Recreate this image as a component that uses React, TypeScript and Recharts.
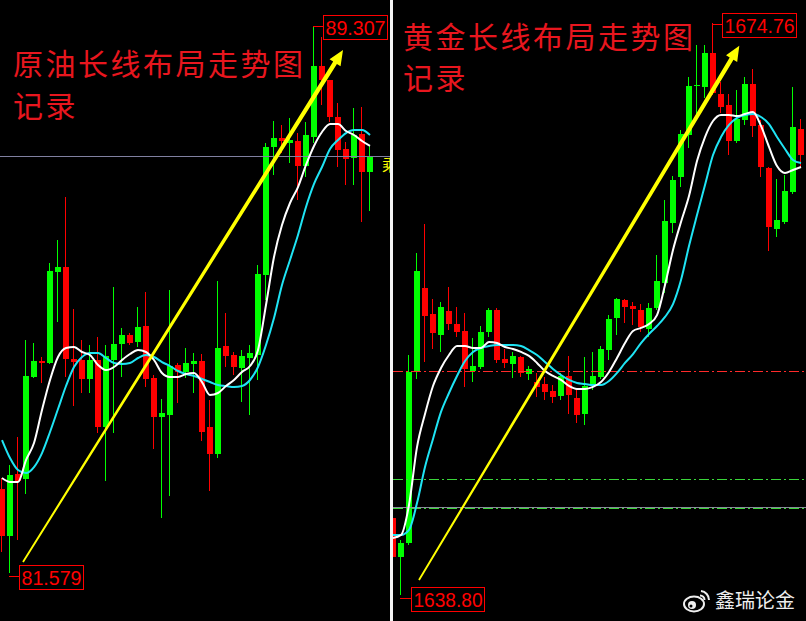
import React from 'react';
import { ComposedChart, Bar, Line, XAxis, YAxis, ReferenceLine, ReferenceDot } from 'recharts';

// ---------------- Crude oil (left panel) ----------------
const oilOpen = [82.768, 82.103, 82.980, 82.909, 84.353, 84.579, 84.551, 85.839, 85.910, 84.608, 84.594, 84.325, 84.594, 83.645, 84.594, 84.820, 84.947, 84.848, 85.075, 84.339, 83.787, 83.815, 84.523, 84.424, 84.537, 84.579, 83.645, 83.263, 84.792, 84.664, 84.480, 84.622, 84.664, 85.797, 87.608, 87.736, 87.665, 87.693, 87.339, 87.750, 88.755, 88.557, 88.033, 87.580, 87.453, 87.792, 87.255];
const oilClose = [82.103, 82.966, 82.881, 84.367, 84.579, 84.551, 85.853, 85.910, 84.608, 84.565, 84.325, 84.594, 83.645, 84.650, 84.820, 84.947, 84.834, 85.061, 84.325, 83.787, 83.843, 84.509, 84.424, 84.551, 84.579, 83.575, 83.263, 84.763, 84.650, 84.495, 84.650, 84.693, 85.811, 87.608, 87.736, 87.693, 87.707, 87.339, 87.778, 88.755, 88.557, 88.033, 87.566, 87.439, 87.778, 87.255, 87.481];
const oilHigh = [82.923, 83.107, 83.504, 84.877, 84.834, 84.636, 85.967, 86.292, 86.901, 85.315, 84.877, 84.806, 84.919, 84.806, 85.627, 85.047, 84.976, 85.344, 85.556, 84.381, 84.042, 85.584, 84.551, 84.763, 84.693, 84.679, 84.027, 85.712, 85.259, 84.707, 84.735, 84.806, 85.938, 87.665, 87.976, 87.920, 88.019, 87.806, 87.962, 89.307, 89.165, 88.557, 88.231, 87.679, 88.160, 88.175, 87.637];
const oilLow = [81.876, 81.579, 82.046, 82.697, 84.339, 84.268, 84.537, 85.131, 84.353, 83.943, 84.127, 84.127, 83.560, 82.881, 83.560, 84.353, 84.806, 84.778, 84.211, 83.334, 82.357, 82.669, 83.985, 84.339, 84.127, 83.447, 82.739, 83.207, 84.495, 84.381, 83.999, 83.815, 84.311, 85.443, 87.212, 87.523, 87.382, 86.858, 87.184, 87.665, 88.203, 87.962, 87.325, 87.071, 87.071, 86.547, 86.703];
const oilMaFast = [82.923, 82.867, 82.867, 83.178, 83.419, 83.886, 84.311, 84.636, 84.763, 84.778, 84.707, 84.664, 84.523, 84.452, 84.495, 84.594, 84.679, 84.735, 84.707, 84.594, 84.410, 84.353, 84.353, 84.395, 84.410, 84.282, 84.098, 84.127, 84.226, 84.311, 84.424, 84.509, 84.735, 85.372, 86.051, 86.504, 86.816, 87.042, 87.354, 87.623, 87.821, 87.934, 87.934, 87.835, 87.778, 87.693, 87.623];
const oilMaSlow = [83.461, 83.207, 83.037, 82.994, 83.079, 83.277, 83.575, 83.900, 84.226, 84.495, 84.636, 84.693, 84.693, 84.622, 84.551, 84.537, 84.551, 84.622, 84.664, 84.636, 84.565, 84.509, 84.438, 84.395, 84.367, 84.325, 84.282, 84.240, 84.226, 84.211, 84.226, 84.311, 84.495, 84.806, 85.188, 85.655, 86.009, 86.363, 86.759, 87.085, 87.325, 87.580, 87.707, 87.806, 87.849, 87.849, 87.778];
const oilLevels = [{ price: 87.481, color: '#8080a0', dash: undefined as string | undefined }];
const oilArrow = [{ x: 2.625, y: 81.735 }, { x: 42.625, y: 88.981 }];
const oilTags = [
  { i: 39, price: 89.307, label: '89.307', dy: 0, gap: 10, w: 64 },
  { i: 1, price: 81.579, label: '81.579', dy: 4, gap: 10, w: 64 },
];

// ---------------- Gold (right panel) ----------------
const goldOpen = [1643.64, 1641.19, 1642.07, 1652.82, 1658.10, 1656.47, 1655.15, 1656.65, 1655.84, 1655.40, 1652.88, 1653.13, 1655.33, 1656.72, 1653.64, 1653.32, 1653.76, 1652.69, 1652.19, 1652.07, 1651.63, 1651.31, 1652.57, 1651.19, 1650.18, 1652.00, 1652.51, 1654.20, 1656.21, 1657.35, 1656.97, 1656.72, 1655.52, 1656.84, 1658.42, 1662.19, 1665.08, 1667.72, 1670.80, 1670.74, 1672.87, 1670.30, 1669.61, 1667.34, 1668.66, 1670.93, 1668.35, 1665.64, 1661.81, 1662.25, 1664.14, 1668.10];
const goldClose = [1641.19, 1642.07, 1652.82, 1659.17, 1656.34, 1655.27, 1656.91, 1655.84, 1655.33, 1653.01, 1653.20, 1655.33, 1656.72, 1653.57, 1653.39, 1653.83, 1652.76, 1653.01, 1651.88, 1651.56, 1651.25, 1652.57, 1651.37, 1650.12, 1651.94, 1652.57, 1654.27, 1656.15, 1657.41, 1656.91, 1656.78, 1655.65, 1656.84, 1658.54, 1662.31, 1664.89, 1667.78, 1670.80, 1670.86, 1672.87, 1670.36, 1669.48, 1667.34, 1668.73, 1670.93, 1668.29, 1665.71, 1661.94, 1662.38, 1664.20, 1668.22, 1666.46];
const goldHigh = [1643.83, 1642.26, 1653.89, 1660.30, 1662.12, 1657.41, 1657.22, 1658.16, 1656.91, 1656.53, 1654.96, 1655.71, 1656.84, 1656.84, 1654.27, 1654.08, 1653.83, 1653.20, 1652.76, 1652.51, 1652.00, 1652.76, 1653.83, 1651.69, 1653.76, 1654.08, 1654.45, 1656.40, 1657.47, 1657.41, 1657.22, 1657.09, 1657.16, 1660.18, 1663.63, 1665.14, 1668.03, 1671.37, 1673.38, 1673.38, 1674.76, 1671.05, 1670.30, 1670.55, 1671.37, 1671.87, 1668.66, 1665.71, 1664.95, 1665.20, 1670.74, 1668.73];
const goldLow = [1641.00, 1638.80, 1641.94, 1652.38, 1653.45, 1654.27, 1654.08, 1655.46, 1655.02, 1651.88, 1652.19, 1653.01, 1655.02, 1653.39, 1653.07, 1652.44, 1652.51, 1652.32, 1651.25, 1651.06, 1650.87, 1651.06, 1650.18, 1649.61, 1649.49, 1651.69, 1652.38, 1653.57, 1655.15, 1655.90, 1655.77, 1655.33, 1655.02, 1656.72, 1657.79, 1661.56, 1664.45, 1666.90, 1668.66, 1670.05, 1670.23, 1669.10, 1666.46, 1667.22, 1668.35, 1667.59, 1665.08, 1660.43, 1661.31, 1662.12, 1664.01, 1665.71];
const goldMaFast = [1642.38, 1642.57, 1644.46, 1648.10, 1650.18, 1651.94, 1653.07, 1653.89, 1654.45, 1654.45, 1654.33, 1654.33, 1654.71, 1654.64, 1654.39, 1654.27, 1654.08, 1653.83, 1653.39, 1652.88, 1652.57, 1652.32, 1651.94, 1651.75, 1651.75, 1651.88, 1652.19, 1652.82, 1653.70, 1654.64, 1655.40, 1655.59, 1655.84, 1656.40, 1658.29, 1660.49, 1662.25, 1663.88, 1666.08, 1667.59, 1668.60, 1668.98, 1668.98, 1668.91, 1669.04, 1669.17, 1668.29, 1666.97, 1665.77, 1665.33, 1665.52, 1665.71];
const goldMaSlow = [1642.57, 1642.57, 1642.89, 1644.58, 1646.85, 1648.61, 1650.31, 1651.50, 1652.57, 1653.51, 1654.08, 1654.33, 1654.45, 1654.52, 1654.52, 1654.52, 1654.45, 1654.20, 1653.89, 1653.45, 1653.01, 1652.63, 1652.32, 1652.13, 1652.07, 1652.00, 1652.00, 1652.25, 1652.76, 1653.39, 1653.95, 1654.64, 1655.21, 1655.71, 1656.28, 1657.09, 1658.60, 1660.74, 1662.69, 1664.58, 1666.46, 1667.59, 1668.35, 1668.79, 1668.98, 1669.04, 1668.85, 1668.41, 1667.59, 1666.84, 1666.15, 1665.96];
const goldLevels = [
  { price: 1652.88, color: '#ff2a2a', dash: '10 3 2 3' },
  { price: 1646.09, color: '#3ad63a', dash: '10 3 2 3' },
  { price: 1644.33, color: '#8a8a9a', dash: undefined as string | undefined },
  { price: 1644.24, color: '#3ad63a', dash: '10 3 2 3' },
];
const goldArrow = [{ x: 3.25, y: 1639.74 }, { x: 43.29, y: 1673.33 }];
const goldTags = [
  { i: 40, price: 1674.76, label: '1674.76', dy: 1.5, gap: 10, w: 74 },
  { i: 1, price: 1638.80, label: '1638.80', dy: 4, gap: 11, w: 73 },
];

const oilTitle = ['原油长线布局走势图', '记录'];
const goldTitle = ['黄金长线布局走势图', '记录'];
const watermark = '鑫瑞论金';

// ---------------- helpers ----------------
const makeRows = (open: number[], close: number[], high: number[], low: number[], fast: number[], slow: number[]) =>
  open.map((o, i) => ({
    i,
    open: o,
    close: close[i],
    high: high[i],
    low: low[i],
    range: [low[i], high[i]],
    fast: fast[i],
    slow: slow[i],
  }));

const oilRows = makeRows(oilOpen, oilClose, oilHigh, oilLow, oilMaFast, oilMaSlow);
const goldRows = makeRows(goldOpen, goldClose, goldHigh, goldLow, goldMaFast, goldMaSlow);

const UP = '#00ff00';
const DOWN = '#ff0000';
const H = 621;

function Candle(props: any) {
  const { x, y, width, height, payload } = props;
  if (!payload) return null;
  const { open, close, high, low } = payload;
  const cx = Math.round(x + width / 2);
  const span = high - low;
  const py = (v: number) => (span === 0 ? y : y + ((high - v) / span) * height);
  const color = close >= open ? UP : DOWN;
  const top = py(Math.max(open, close));
  const bot = py(Math.min(open, close));
  return (
    <g shapeRendering="crispEdges">
      <rect x={cx - 1} y={y} width={1} height={Math.max(height, 1)} fill={color} />
      <rect x={cx - 3} y={top} width={6} height={Math.max(bot - top, 1)} fill={color} />
    </g>
  );
}

function ArrowShape(props: any) {
  const { x1, y1, x2, y2 } = props;
  if ([x1, y1, x2, y2].some((v) => typeof v !== 'number' || isNaN(v))) return null;
  const dx = x2 - x1;
  const dy = y2 - y1;
  const len = Math.hypot(dx, dy);
  const ux = dx / len;
  const uy = dy / len;
  const nx = -uy;
  const ny = ux;
  const headLen = 15;
  const headW = 6.5;
  const bx = x2 - ux * headLen;
  const by = y2 - uy * headLen;
  const w0 = 0.9;
  const w1 = 2.2;
  const pts = [
    [x1 + nx * w0, y1 + ny * w0],
    [bx + nx * w1, by + ny * w1],
    [bx + nx * headW, by + ny * headW],
    [x2, y2],
    [bx - nx * headW, by - ny * headW],
    [bx - nx * w1, by - ny * w1],
    [x1 - nx * w0, y1 - ny * w0],
  ];
  return <polygon points={pts.map((p) => p.join(',')).join(' ')} fill="#ffff00" />;
}

function LevelShape(props: any) {
  const { x1, y1, x2, color, dash } = props;
  if (typeof y1 !== 'number' || isNaN(y1)) return null;
  const yy = Math.round(y1) + 0.5;
  return (
    <line
      x1={x1}
      x2={x2}
      y1={yy}
      y2={yy}
      stroke={color}
      strokeWidth={1}
      strokeDasharray={dash}
      shapeRendering="crispEdges"
    />
  );
}

function PriceTag(props: any) {
  const { cx, cy, label, dy, gap, w } = props;
  if (typeof cx !== 'number' || typeof cy !== 'number') return null;
  const wx = Math.round(cx) - 1;
  const boxX = wx + gap;
  const cyc = Math.round(cy + dy);
  return (
    <g>
      <line x1={wx} x2={boxX} y1={cyc - 0.5} y2={cyc - 0.5} stroke="#ff0000" strokeWidth={1} shapeRendering="crispEdges" />
      <rect x={boxX + 0.5} y={cyc - 11.5} width={w} height={24} fill="none" stroke="#ff0000" strokeWidth={1} shapeRendering="crispEdges" />
      <text
        x={boxX + 2.5}
        y={cyc + 8}
        fill="#ff0000"
        fontSize={20}
        textLength={w - 4}
        lengthAdjust="spacingAndGlyphs"
        fontFamily="'Liberation Sans', Arial, sans-serif"
      >
        {label}
      </text>
    </g>
  );
}

type Level = { price: number; color: string; dash?: string };

function Panel(props: {
  rows: any[];
  width: number;
  xDomain: [number, number];
  yDomain: [number, number];
  arrow: { x: number; y: number }[];
  tags: any[];
  levels: Level[];
}) {
  const { rows, width, xDomain, yDomain, arrow, tags, levels } = props;
  return (
    <ComposedChart width={width} height={H} data={rows} margin={{ top: 0, right: 0, bottom: 0, left: 0 }}>
      <XAxis type="number" dataKey="i" domain={xDomain} hide allowDataOverflow />
      <YAxis type="number" domain={yDomain} hide allowDataOverflow />
      {levels.map((l, k) => (
        <ReferenceLine
          key={'lv' + k}
          y={l.price}
          ifOverflow="visible"
          shape={(p: any) => <LevelShape {...p} color={l.color} dash={l.dash} />}
        />
      ))}
      <Bar dataKey="range" barSize={6} isAnimationActive={false} shape={(p: any) => <Candle {...p} />} />
      <Line dataKey="slow" type="monotone" stroke="#1fe4f4" strokeWidth={2} dot={false} activeDot={false} isAnimationActive={false} />
      <Line dataKey="fast" type="monotone" stroke="#ffffff" strokeWidth={2} dot={false} activeDot={false} isAnimationActive={false} />
      <ReferenceLine segment={arrow} ifOverflow="visible" shape={(p: any) => <ArrowShape {...p} />} />
      {tags.map((t, k) => (
        <ReferenceDot
          key={'tag' + k}
          x={t.i}
          y={t.price}
          ifOverflow="visible"
          shape={(p: any) => <PriceTag {...p} label={t.label} dy={t.dy} gap={t.gap} w={t.w} />}
        />
      ))}
    </ComposedChart>
  );
}

const titleFont = "'Noto Sans CJK SC', 'Noto Sans', sans-serif";

export default function App() {
  return (
    <div style={{ position: 'absolute', left: 0, top: 0, width: 806, height: H, background: '#000', overflow: 'hidden' }}>
      <div style={{ position: 'absolute', left: 0, top: 0, width: 390, height: H }}>
        <Panel
          rows={oilRows}
          width={390}
          xDomain={[-0.25, 48.5]}
          yDomain={[80.9, 89.689]}
          arrow={oilArrow}
          tags={oilTags}
          levels={oilLevels}
        />
      </div>
      <div style={{ position: 'absolute', left: 393, top: 0, width: 413, height: H }}>
        <Panel
          rows={goldRows}
          width={413}
          xDomain={[0, 51.625]}
          yDomain={[1637.166, 1676.206]}
          arrow={goldArrow}
          tags={goldTags}
          levels={goldLevels}
        />
      </div>
      <svg width={806} height={H} style={{ position: 'absolute', left: 0, top: 0, pointerEvents: 'none' }}>
        <defs>
          <clipPath id="leftClip">
            <rect x={0} y={0} width={390} height={H} />
          </clipPath>
        </defs>
        <rect x={390} y={0} width={3} height={H} fill="#f4f4f4" />
        <text x={382} y={171} fill="#ffff00" fontSize={16} fontFamily={titleFont} clipPath="url(#leftClip)">乘</text>
        <g fill="#e8161e" fontFamily={titleFont} fontSize={30} letterSpacing={2.5}>
          <text x={13} y={75}>{oilTitle[0]}</text>
          <text x={13} y={117}>{oilTitle[1]}</text>
          <text x={403} y={48}>{goldTitle[0]}</text>
          <text x={403} y={89}>{goldTitle[1]}</text>
        </g>
        <g stroke="#eeeeee" fill="none" strokeWidth={2}>
          <ellipse cx={694} cy={604} rx={10} ry={7.5} />
          <path d="M 701 591 A 9 9 0 0 1 709 600" />
          <path d="M 700 595.5 A 4.5 4.5 0 0 1 704.5 600" />
        </g>
        <circle cx={692} cy={605} r={4} fill="#eeeeee" />
        <circle cx={691} cy={606} r={1.5} fill="#000" />
        <text x={715} y={608} fill="#eeeeee" fontSize={20} fontFamily={titleFont}>{watermark}</text>
      </svg>
    </div>
  );
}
